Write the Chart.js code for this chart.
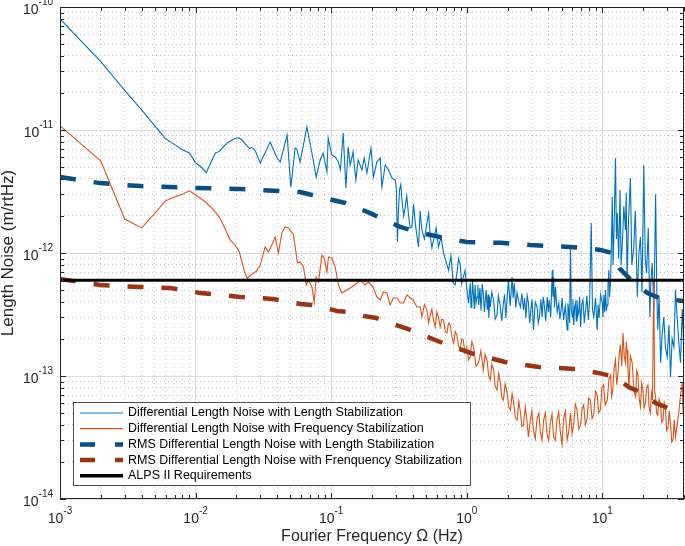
<!DOCTYPE html>
<html>
<head>
<meta charset="utf-8">
<title>Length noise</title>
<script src="https://cdn.jsdelivr.net/npm/chart.js@4.4.1/dist/chart.umd.min.js"></script>
<style>
  html, body { margin: 0; padding: 0; background: #fff; }
  #wrap { width: 685px; height: 546px; }
</style>
</head>
<body>
<div id="wrap"><canvas id="mycanvas" width="685" height="546"></canvas></div>
<script>
// Differential length noise with length stabilization (m/rtHz)
const freqLen = [0.001,0.002,0.003,0.004,0.005,0.006,0.007,0.008,0.009,0.010,0.011,0.012,0.013,0.014,0.015,0.016,0.017,0.018,0.019,0.020,0.021,0.022,0.023,0.024,0.025,0.026,0.027,0.028,0.029,0.030,
  0.0355,0.0399,0.0421,0.0473,0.0504,0.0542,0.0558,0.059,0.0662,0.0721,0.0775,0.083,0.0873,0.093,0.095,0.101,0.107,0.113,0.117,0.1226,0.1284,0.1335,0.138,0.145,0.152,0.158,0.1685,0.175,0.1835,0.1965,
  0.205,0.217,0.23,0.2366,0.2505,0.265,0.2805,0.2965,
  0.3025,0.308,0.3135,0.319,0.326,0.3325,0.342,0.3515,0.361,0.372,0.382,0.394,0.405,0.417,0.428,0.4406,0.453,0.4667,0.487,0.508,
  0.523,0.538,0.553,0.569,0.594,0.619,0.646,0.674,0.704,0.734,0.764,0.795,0.82,0.847,0.87,0.895,0.918,0.942,0.97,
  1.0,1.03,1.061,1.075,1.089,1.103,1.117,1.135,1.152,1.17,
  1.19,1.208,1.226,1.25,1.275,1.3,1.324,1.347,1.37,1.39,
  1.416,1.435,1.455,1.473,1.491,1.53,1.578,1.62,1.67,1.71,
  1.76,1.81,1.862,1.9,1.94,1.98,2.03,2.09,2.158,2.2,
  2.24,2.3,2.35,2.42,2.487,2.55,2.618,2.67,2.73,2.79,
  2.85,2.91,2.97,3.03,3.1,3.2,3.3,3.37,3.43,3.52,
  3.6,3.66,3.73,3.82,3.92,3.99,4.06,4.16,4.27,4.32,
  4.37,4.44,4.51,4.64,4.77,4.86,4.96,5.06,5.17,5.33,
  5.5,5.57,5.65,5.73,5.82,5.9,6.0,6.07,6.15,6.24,
  6.34,6.42,6.5,6.6,6.7,6.8,6.9,7.05,7.2,7.36,
  7.52,7.7,7.87,8.05,8.28,8.45,8.65,8.9,9.16,9.3,
  9.45,9.7,9.98,10.1,10.25,10.4,10.55,10.7,10.86,11.0,
  11.16,11.3,11.5,11.65,11.83,12.0,12.2,12.5,12.7,12.9,
  13.2,13.5,13.75,14.0,14.4,14.8,15.0,15.2,15.6,16.1,
  16.5,17.06,17.5,18.1,18.6,19.1,19.6,20.2,20.7,21.2,
  21.8,22.4,22.8,23.3,24.0,24.7,25.2,25.6,26.2,26.9,
  27.6,28.4,29.2,30.1,31.0,31.8,32.7,33.7,34.6,35.6,
  36.6,37.7,38.8,39.9];
const noiseLen = [8.0e-11,3.6e-11,2.1e-11,1.46e-11,1.08e-11,8.5e-12,7.6e-12,6.9e-12,6.5e-12,5.4e-12,5.0e-12,4.5e-12,5.5e-12,6.5e-12,6.7e-12,7.3e-12,7.8e-12,8.1e-12,8.4e-12,8.6e-12,8.6e-12,8.3e-12,7.8e-12,7.4e-12,7.1e-12,7.2e-12,7.0e-12,6.5e-12,5.9e-12,5.4e-12,
  7.98e-12,5.92e-12,5.49e-12,9.1e-12,3.44e-12,7.14e-12,7.0e-12,5.49e-12,1.06e-11,6.5e-12,4.15e-12,5.7e-12,6.5e-12,4.56e-12,8.6e-12,6.26e-12,6.03e-12,5.49e-12,4.73e-12,9.45e-12,3.38e-12,7.27e-12,5.19e-12,6.62e-12,3.92e-12,5.7e-12,4.73e-12,5.92e-12,4.47e-12,7.14e-12,
  4.15e-12,5.49e-12,5.92e-12,3.44e-12,5.19e-12,4.73e-12,4.07e-12,3.92e-12,
  3.3e-12,1.23e-12,2.2e-12,3.25e-12,3.6e-12,2.7e-12,2.0e-12,2.37e-12,2.9e-12,2.04e-12,1.6e-12,1.63e-12,2.5e-12,1.75e-12,1.4e-12,1.12e-12,2.2e-12,1.54e-12,1.3e-12,1.75e-12,
  2.1e-12,1.35e-12,1.1e-12,1.28e-12,1.6e-12,1.12e-12,1.35e-12,1.0e-12,8.5e-13,7.27e-13,9.5e-13,5.7e-13,5.5e-13,6.88e-13,9.0e-13,7.98e-13,5.6e-13,6.38e-13,7.2e-13,
  5.29e-13,3.9e-13,5.7e-13,3.6e-13,4.15e-13,5.9e-13,4.73e-13,3.5e-13,5.49e-13,3.9e-13,
  4.39e-13,5.5e-13,3.78e-13,5.2e-13,3.4e-13,5.6e-13,4.73e-13,3.3e-13,4.15e-13,5.0e-13,
  3.44e-13,4.6e-13,2.96e-13,4.4e-13,3.64e-13,4.8e-13,4.15e-13,2.9e-13,3.13e-13,4.5e-13,
  3.78e-13,2.8e-13,3.92e-13,4.6e-13,2.96e-13,4.2e-13,6.03e-13,3.7e-13,6.38e-13,4.3e-13,
  5.7e-13,3.6e-13,4.73e-13,4.0e-13,3.64e-13,4.7e-13,3.44e-13,4.3e-13,2.96e-13,4.5e-13,
  3.92e-13,2.7e-13,3.44e-13,4.2e-13,2.37e-13,4.0e-13,3.64e-13,2.7e-13,2.96e-13,4.2e-13,
  3.02e-13,4.4e-13,3.78e-13,2.8e-13,4.39e-13,3.3e-13,4.15e-13,3.0e-13,7.27e-13,4.4e-13,
  6.38e-13,3.6e-13,5.29e-13,3.3e-13,3.92e-13,2.9e-13,3.44e-13,4.3e-13,2.85e-13,3.7e-13,
  2.37e-13,3.9e-13,3.44e-13,2.7e-13,1.1e-12,3.5e-13,3.02e-13,4.2e-13,2.6e-13,3.6e-13,
  3.92e-13,2.8e-13,4.15e-13,3.1e-13,3.31e-13,4.4e-13,2.5e-13,3.8e-13,4.15e-13,2.7e-13,
  3.44e-13,4.5e-13,2.85e-13,4.0e-13,1.75e-12,3.5e-13,3.02e-13,4.3e-13,2.37e-13,3.8e-13,
  2.96e-13,4.6e-13,3.92e-13,3.0e-13,4.56e-13,3.3e-13,5.0e-13,3.4e-13,3.78e-13,5.5e-13,
  7.27e-13,4.4e-13,6.03e-13,1.1e-12,2.85e-12,8.0e-13,1.6e-12,5.92e-12,1.3e-12,2.11e-12,
  9.0e-13,3.25e-12,8.0e-13,1.12e-12,2.4e-12,1.54e-12,3.1e-12,6.03e-13,1.9e-12,4.07e-12,
  8.0e-13,1.12e-12,2.2e-12,4.39e-13,1.0e-12,1.35e-12,4.8e-13,5.19e-12,9.0e-13,6.88e-13,
  1.6e-12,3.02e-13,6.0e-13,8.3e-13,3.5e-13,3.0e-12,5.0e-13,2.37e-13,4.5e-13,1.28e-13,
  2.2e-13,3.02e-13,1.7e-13,1.43e-13,2.6e-13,9.8e-14,2.0e-13,1.72e-13,5.0e-13,3.02e-13,
  1.9e-13,1.28e-13,3.5e-13,1.63e-13];

// Differential length noise with frequency stabilization (m/rtHz)
const freqFreq = [0.001,0.002,0.003,0.004,0.005,0.006,0.007,0.008,0.009,0.010,0.011,0.012,0.013,0.014,0.015,0.016,0.017,0.018,0.019,0.020,0.021,0.022,0.023,0.024,0.025,0.026,0.027,0.028,0.030,
  0.0326,0.0344,0.0365,0.0386,0.0408,0.0433,0.0458,0.0484,0.0527,0.0564,
  0.059,0.0625,0.0655,0.068,0.0721,0.075,0.0775,0.0806,0.0854,0.0888,
  0.093,0.0955,0.101,0.107,0.1132,0.12,0.1306,0.1422,0.155,0.1637,
  0.178,0.1885,0.204,0.217,0.23,0.242,0.2576,0.2723,0.287,0.3055,
  0.323,0.34,0.362,0.383,0.403,0.4285,0.454,
  0.4667,0.487,0.508,0.523,0.538,0.553,0.569,0.585,0.601,0.619,
  0.637,0.655,0.674,0.694,0.714,0.734,0.755,0.777,0.799,0.823,
  0.847,0.87,0.895,0.918,0.942,0.97,
  1.0,1.03,1.061,1.09,1.122,1.17,1.222,1.27,1.324,1.365,
  1.41,1.45,1.491,1.53,1.578,1.62,1.67,1.72,1.77,1.81,
  1.862,1.92,1.984,2.04,2.1,2.16,2.22,2.28,2.35,2.42,
  2.487,2.55,2.618,2.70,2.78,2.85,2.94,3.02,3.1,3.2,
  3.3,3.4,3.49,3.59,3.69,3.8,3.92,4.02,4.13,4.25,
  4.37,4.5,4.63,4.76,4.9,5.04,5.18,5.34,5.5,5.66,
  5.82,5.98,6.14,6.32,6.5,6.7,6.9,7.09,7.28,7.5,
  7.71,7.93,8.15,8.4,8.63,8.9,9.16,9.4,9.67,9.93,
  10.2,10.5,10.86,11.2,11.5,11.7,11.95,12.2,12.5,12.75,
  13.0,13.3,13.57,13.9,14.2,14.5,14.8,15.0,15.2,15.45,
  15.7,16.1,16.6,17.1,17.6,17.9,18.3,18.7,19.1,19.5,
  19.9,20.3,20.8,21.2,21.7,22.1,22.6,23.0,23.4,23.9,
  24.3,24.7,25.1,25.6,26.2,26.9,27.4,28.0,28.6,29.2,
  29.8,30.5,31.1,31.8,32.5,33.2,33.9,34.6,35.6,36.6,
  37.7,38.8,39.4,39.9];
const noiseFreq = [1.08e-11,5.6e-12,1.89e-12,1.6e-12,2.1e-12,2.66e-12,2.85e-12,3.0e-12,3.2e-12,2.96e-12,2.75e-12,2.56e-12,2.35e-12,2.15e-12,1.96e-12,1.7e-12,1.46e-12,1.28e-12,1.2e-12,1.12e-12,1.02e-12,8.45e-13,7.0e-13,6.2e-13,6.5e-13,6.7e-13,6.9e-13,7.1e-13,7.98e-13,
  1.12e-12,1.02e-12,1.16e-12,1.35e-12,1.0e-12,1.46e-12,1.63e-12,1.6e-12,1.4e-12,8.3e-13,
  8.45e-13,7.69e-13,5.49e-13,6.03e-13,5.29e-13,4.0e-13,6.38e-13,5.81e-13,9.6e-13,9.1e-13,
  7.01e-13,9.3e-13,9.1e-13,7.69e-13,5.49e-13,4.73e-13,5.0e-13,5.29e-13,5.7e-13,6.03e-13,
  5.49e-13,5.81e-13,5.29e-13,4.39e-13,4.15e-13,4.82e-13,4.73e-13,3.78e-13,4.31e-13,4.31e-13,
  3.92e-13,3.92e-13,4.56e-13,4.31e-13,4.15e-13,3.64e-13,3.64e-13,
  3.02e-13,3.8e-13,3.44e-13,2.7e-13,3.13e-13,3.5e-13,2.85e-13,2.5e-13,3.31e-13,3.0e-13,
  2.5e-13,2.9e-13,2.85e-13,2.3e-13,2.24e-13,2.7e-13,2.6e-13,2.1e-13,1.85e-13,2.3e-13,
  2.15e-13,1.75e-13,1.63e-13,2.0e-13,1.96e-13,1.55e-13,
  1.72e-13,1.35e-13,1.43e-13,1.9e-13,1.72e-13,1.2e-13,1.28e-13,1.6e-13,1.12e-13,1.5e-13,
  1.35e-13,1.0e-13,9.3e-14,1.25e-13,1.12e-13,8.2e-14,7.7e-14,1.05e-13,8.8e-14,6.8e-14,
  6.38e-14,8.6e-14,7.3e-14,5.6e-14,5.3e-14,7.2e-14,6.03e-14,4.6e-14,4.39e-14,6.2e-14,
  5.1e-14,3.9e-14,4.0e-14,5.6e-14,4.3e-14,3.19e-14,4.39e-14,5.2e-14,3.64e-14,3.1e-14,
  4.5e-14,5.0e-14,3.5e-14,3.0e-14,4.39e-14,5.0e-14,3.31e-14,3.0e-14,4.15e-14,4.9e-14,
  3.19e-14,3.0e-14,4.39e-14,5.1e-14,3.5e-14,2.8e-14,4.5e-14,5.2e-14,3.02e-14,3.6e-14,
  5.0e-14,3.4e-14,4.0e-14,5.9e-14,5.3e-14,3.7e-14,4.0e-14,5.4e-14,5.8e-14,4.0e-14,
  4.5e-14,6.6e-14,6.38e-14,4.5e-14,4.82e-14,7.5e-14,7.0e-14,5.0e-14,5.3e-14,8.0e-14,
  8.45e-14,5.8e-14,6.38e-14,9.5e-14,1.02e-13,6.8e-14,7.7e-14,1.15e-13,1.35e-13,8.5e-14,
  1.02e-13,1.5e-13,1.79e-13,1.2e-13,2.24e-13,1.45e-13,1.28e-13,1.9e-13,1.63e-13,1.1e-13,
  8.1e-14,1.45e-13,1.28e-13,7.5e-14,6.75e-14,1.1e-13,1.02e-13,6.5e-14,5.6e-14,8.8e-14,
  7.7e-14,5.5e-14,6.03e-14,8.0e-14,8.45e-14,5.5e-14,5.0e-14,7.2e-14,6.38e-14,5.81e-13,
  7.5e-14,6.75e-14,5.0e-14,4.82e-14,6.5e-14,5.8e-14,4.2e-14,4.39e-14,6.0e-14,5.3e-14,
  3.6e-14,3.78e-14,5.2e-14,4.15e-14,2.9e-14,3.02e-14,4.4e-14,3.19e-14,4.0e-14,5.0e-14,
  7.0e-14,8.8e-14,5.0e-14,6.75e-14];

// RMS curves
const rmsLenFreq = [0.001,0.00197,0.0039,0.0099,0.0213,0.059,0.083,0.127,0.194,0.23,0.323,0.454,0.694,1.0,1.77,2.94,5.82,9.67,11.8,13.4,17.1,21.5,27.3,39.9];
const rmsLen = [4.15e-12,3.7e-12,3.5e-12,3.38e-12,3.31e-12,3.13e-12,2.85e-12,2.55e-12,2.11e-12,1.93e-12,1.63e-12,1.46e-12,1.32e-12,1.23e-12,1.21e-12,1.16e-12,1.12e-12,1.06e-12,1.0e-12,7.5e-13,5.7e-13,4.73e-13,4.23e-13,4.08e-13];
const rmsFreqFreq = [0.001,0.00197,0.0039,0.00649,0.0108,0.0213,0.0373,0.059,0.0724,0.1107,0.138,0.172,0.215,0.383,0.637,1.061,1.92,3.49,6.5,9.67,12.5,15.7,19.7,24.7,31.8,39.9];
const rmsFreq = [6.15e-13,5.49e-13,5.29e-13,5.2e-13,4.73e-13,4.39e-13,4.23e-13,3.85e-13,3.78e-13,3.38e-13,3.31e-13,3.08e-13,2.96e-13,2.37e-13,1.89e-13,1.54e-13,1.3e-13,1.18e-13,1.14e-13,1.05e-13,9.8e-14,8.1e-14,7.3e-14,6.03e-14,5.4e-14,5.0e-14];

// ALPS II requirement
const alpsFreq = [0.001, 40];
const alpsReq = [6e-13, 6e-13];

// axes
const xRange = [1e-3, 40];
const yRange = [1e-14, 1e-10];
const xDecades = [1e-3, 1e-2, 1e-1, 1, 10];
const xTickExp = ['-3', '-2', '-1', '0', '1'];
const yDecades = [1e-14, 1e-13, 1e-12, 1e-11, 1e-10];
const yTickExp = ['-14', '-13', '-12', '-11', '-10'];

const seriesNames = [
  'Differential Length Noise with Length Stabilization',
  'Differential Length Noise with Frequency Stabilization',
  'RMS Differential Length Noise with Length Stabilization',
  'RMS Differential Length Noise with Frenquency Stabilization',
  'ALPS II Requirements'
];
const seriesColors = ['#0072BD', '#D95319', '#0B4F82', '#9A3415', '#000000'];

const FONT = '"Liberation Sans", Arial, Helvetica, sans-serif';

function pairs(xs, ys) {
  return xs.map(function (x, i) { return {x: x, y: ys[i]}; });
}

// every 1..9 x decade between min and max, decades flagged as major
function logTicks(min, max) {
  var out = [];
  for (var e = Math.floor(Math.log10(min)); e <= Math.ceil(Math.log10(max)); e++) {
    for (var k = 1; k <= 9; k++) {
      var v = k * Math.pow(10, e);
      if (v >= min * 0.999 && v <= max * 1.001) out.push({value: v, major: k === 1});
    }
  }
  return out;
}

function drawPow(ctx, exp, x, y, align) {
  ctx.font = '14px ' + FONT;
  var w1 = ctx.measureText('10').width;
  ctx.font = '10px ' + FONT;
  var w2 = ctx.measureText(exp).width;
  var x0 = align === 'center' ? x - (w1 + w2) / 2 : x - (w1 + w2);
  ctx.font = '14px ' + FONT;
  ctx.fillText('10', x0, y);
  ctx.font = '10px ' + FONT;
  ctx.fillText(exp, x0 + w1, y - 8);
}

const decorPlugin = {
  id: 'decor',
  afterDraw: function (chart) {
    var ctx = chart.ctx, a = chart.chartArea;
    var xs = chart.scales.x, ys = chart.scales.y;
    ctx.save();

    // inward tick marks on all four sides
    ctx.strokeStyle = '#262626';
    ctx.lineWidth = 1;
    ctx.beginPath();
    xs.ticks.forEach(function (t) {
      var p = Math.round(xs.getPixelForValue(t.value)) + 0.5;
      var len = t.major ? 6 : 4;
      ctx.moveTo(p, a.bottom); ctx.lineTo(p, a.bottom - len);
      ctx.moveTo(p, a.top); ctx.lineTo(p, a.top + len);
    });
    ys.ticks.forEach(function (t) {
      var p = Math.round(ys.getPixelForValue(t.value)) + 0.5;
      var len = t.major ? 6 : 4;
      ctx.moveTo(a.left, p); ctx.lineTo(a.left + len, p);
      ctx.moveTo(a.right, p); ctx.lineTo(a.right - len, p);
    });
    ctx.stroke();
    ctx.strokeRect(a.left + 0.5, a.top + 0.5, a.right - a.left - 1, a.bottom - a.top - 1);

    // decade labels
    ctx.fillStyle = '#262626';
    ctx.textBaseline = 'middle';
    ctx.textAlign = 'left';
    xDecades.forEach(function (v, i) {
      drawPow(ctx, xTickExp[i], xs.getPixelForValue(v), a.bottom + 20, 'center');
    });
    yDecades.forEach(function (v, i) {
      drawPow(ctx, yTickExp[i], 53, ys.getPixelForValue(v) + 3, 'right');
    });

    // legend box
    var bx = 73, by = 402, bw = 397, bh = 83;
    ctx.fillStyle = '#ffffff';
    ctx.fillRect(bx, by, bw, bh);
    ctx.strokeStyle = '#262626';
    ctx.lineWidth = 0.8;
    ctx.strokeRect(bx + 0.5, by + 0.5, bw, bh);
    var widths = [1.2, 1.2, 4.5, 4.5, 3.5];
    var dashes = [[], [], [15, 20], [15, 20], []];
    ctx.font = '12.5px ' + FONT;
    seriesNames.forEach(function (name, i) {
      var yy = by + 11 + i * 15.7;
      ctx.save();
      ctx.beginPath();
      ctx.rect(80, yy - 4, 43, 8);
      ctx.clip();
      ctx.strokeStyle = seriesColors[i];
      ctx.lineWidth = widths[i];
      ctx.setLineDash(dashes[i]);
      ctx.beginPath();
      ctx.moveTo(80, yy);
      ctx.lineTo(130, yy);
      ctx.stroke();
      ctx.restore();
      ctx.fillStyle = '#000000';
      ctx.fillText(name, 128, yy);
    });
    ctx.restore();
  }
};

function gridColor(c) {
  return c.tick && c.tick.major ? '#dcdcdc' : '#c8c8c8';
}
function gridDash(c) {
  return c.tick && c.tick.major ? [] : [1, 3];
}

var ctx_live = document.getElementById('mycanvas');
var myChart = new Chart(ctx_live, {
  type: 'line',
  data: {
    datasets: [
      { label: seriesNames[0], data: pairs(freqLen, noiseLen), borderColor: seriesColors[0], borderWidth: 1.1, order: 5 },
      { label: seriesNames[1], data: pairs(freqFreq, noiseFreq), borderColor: seriesColors[1], borderWidth: 1.1, order: 4 },
      { label: seriesNames[2], data: pairs(rmsLenFreq, rmsLen), borderColor: seriesColors[2], borderWidth: 4.5, borderDash: [16, 18], borderCapStyle: 'butt', order: 3 },
      { label: seriesNames[3], data: pairs(rmsFreqFreq, rmsFreq), borderColor: seriesColors[3], borderWidth: 4.5, borderDash: [16, 18], borderCapStyle: 'butt', order: 2 },
      { label: seriesNames[4], data: pairs(alpsFreq, alpsReq), borderColor: seriesColors[4], borderWidth: 3, order: 1 }
    ]
  },
  options: {
    responsive: false,
    animation: false,
    layout: { padding: { top: 7, right: 1, left: 0, bottom: 0 } },
    elements: { point: { radius: 0 }, line: { tension: 0, fill: false } },
    plugins: { legend: { display: false }, tooltip: { enabled: false } },
    scales: {
      x: {
        type: 'logarithmic',
        min: xRange[0], max: xRange[1],
        afterBuildTicks: function (s) { s.ticks = logTicks(xRange[0], xRange[1]); },
        afterFit: function (s) { s.height = 47; },
        ticks: { display: false },
        grid: { color: gridColor, drawTicks: false, lineWidth: 1 },
        border: { display: false, dash: gridDash },
        title: { display: true, text: 'Fourier Frequency \u03A9 (Hz)', color: '#262626', font: { family: FONT, size: 16, lineHeight: 1 }, padding: { top: 0, bottom: 1 } }
      },
      y: {
        type: 'logarithmic',
        min: yRange[0], max: yRange[1],
        afterBuildTicks: function (s) { s.ticks = logTicks(yRange[0], yRange[1]); },
        afterFit: function (s) { s.width = 60; },
        ticks: { display: false },
        grid: { color: gridColor, drawTicks: false, lineWidth: 1 },
        border: { display: false, dash: gridDash },
        title: { display: true, text: 'Length Noise (m/rtHz)', color: '#262626', font: { family: FONT, size: 17, lineHeight: 1 }, padding: { top: 0, bottom: 0 } }
      }
    }
  },
  plugins: [decorPlugin]
});
</script>
</body>
</html>
